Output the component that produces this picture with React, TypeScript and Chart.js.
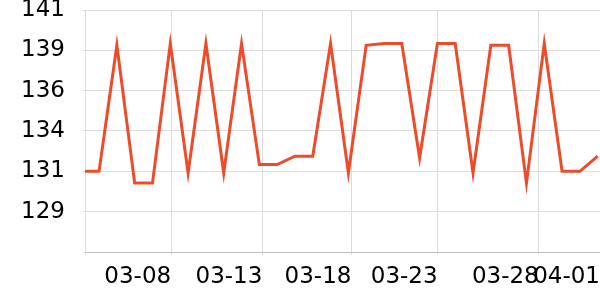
import React, { useEffect, useRef } from "react";
import { Chart, registerables } from "chart.js";

Chart.register(...registerables);

// Daily readings (one per point, evenly spaced along the axis)
const values: number[] = [
  131.4, 131.4, 138.9, 130.7, 130.7, 139.0, 131.3, 139.0, 131.3, 139.0,
  131.8, 131.8, 132.3, 132.3, 139.0, 131.3, 138.9, 139.0, 139.0, 132.2,
  139.0, 139.0, 131.3, 138.9, 138.9, 130.7, 139.0, 131.4, 131.4, 132.3,
];

// Date ticks on the x axis (position in point-index units) and their labels
const xMin = 0.21;
const xMax = 29.13;
const xTickPositions: number[] = [0.21, 5.05, 10.17, 15.17, 20.01, 25.69, 29.13];
const xTickLabels: string[] = ["", "03-08", "03-13", "03-18", "03-23", "03-28", "04-01"];

// Y axis range and ticks
const yMin = 126.6;
const yMax = 141;
const yStep = 2.4;

const FONT = { family: "'DejaVu Sans'", size: 23 };

export default function App() {
  const ref = useRef<HTMLCanvasElement | null>(null);

  useEffect(() => {
    document.body.style.margin = "0";
    const canvas = ref.current;
    if (!canvas) return;
    const chart = new Chart(canvas, {
      type: "line",
      data: {
        datasets: [
          {
            data: values.map((v, i) => ({ x: i, y: v })),
            borderColor: "#ee4b2b",
            backgroundColor: "#ee4b2b",
            borderWidth: 3,
            pointRadius: 0,
            tension: 0,
          },
        ],
      },
      options: {
        animation: false,
        responsive: false,
        devicePixelRatio: 1,
        layout: { padding: { left: 0, top: 10, right: 0, bottom: 0 } },
        plugins: { legend: { display: false }, tooltip: { enabled: false } },
        scales: {
          x: {
            type: "linear",
            min: xMin,
            max: xMax,
            afterBuildTicks: (scale: any) => {
              scale.ticks = xTickPositions.map((v) => ({ value: v }));
            },
            afterFit: (scale: any) => {
              scale.height = 48;
              scale.paddingLeft = 0;
              scale.paddingRight = 0;
            },
            ticks: {
              autoSkip: false,
              maxRotation: 0,
              align: "end",
              color: "#000",
              font: FONT,
              padding: 8,
              callback: (_v: any, i: number) => xTickLabels[i],
            },
            grid: { color: "#dcdcdc", tickLength: 3 },
            border: { color: "#bdbdbd" },
          },
          y: {
            min: yMin,
            max: yMax,
            afterFit: (scale: any) => {
              scale.width = 85;
              scale.paddingTop = 0;
              scale.paddingBottom = 0;
            },
            ticks: {
              stepSize: yStep,
              color: "#000",
              font: FONT,
              padding: 18,
              callback: (v: any, i: number) => (i === 0 ? "" : String(Math.round(Number(v)))),
            },
            grid: { color: "#dcdcdc", tickLength: 2 },
            border: { color: "#dcdcdc" },
          },
        },
      },
    });
    return () => chart.destroy();
  }, []);

  return <canvas ref={ref} width={600} height={300} />;
}
